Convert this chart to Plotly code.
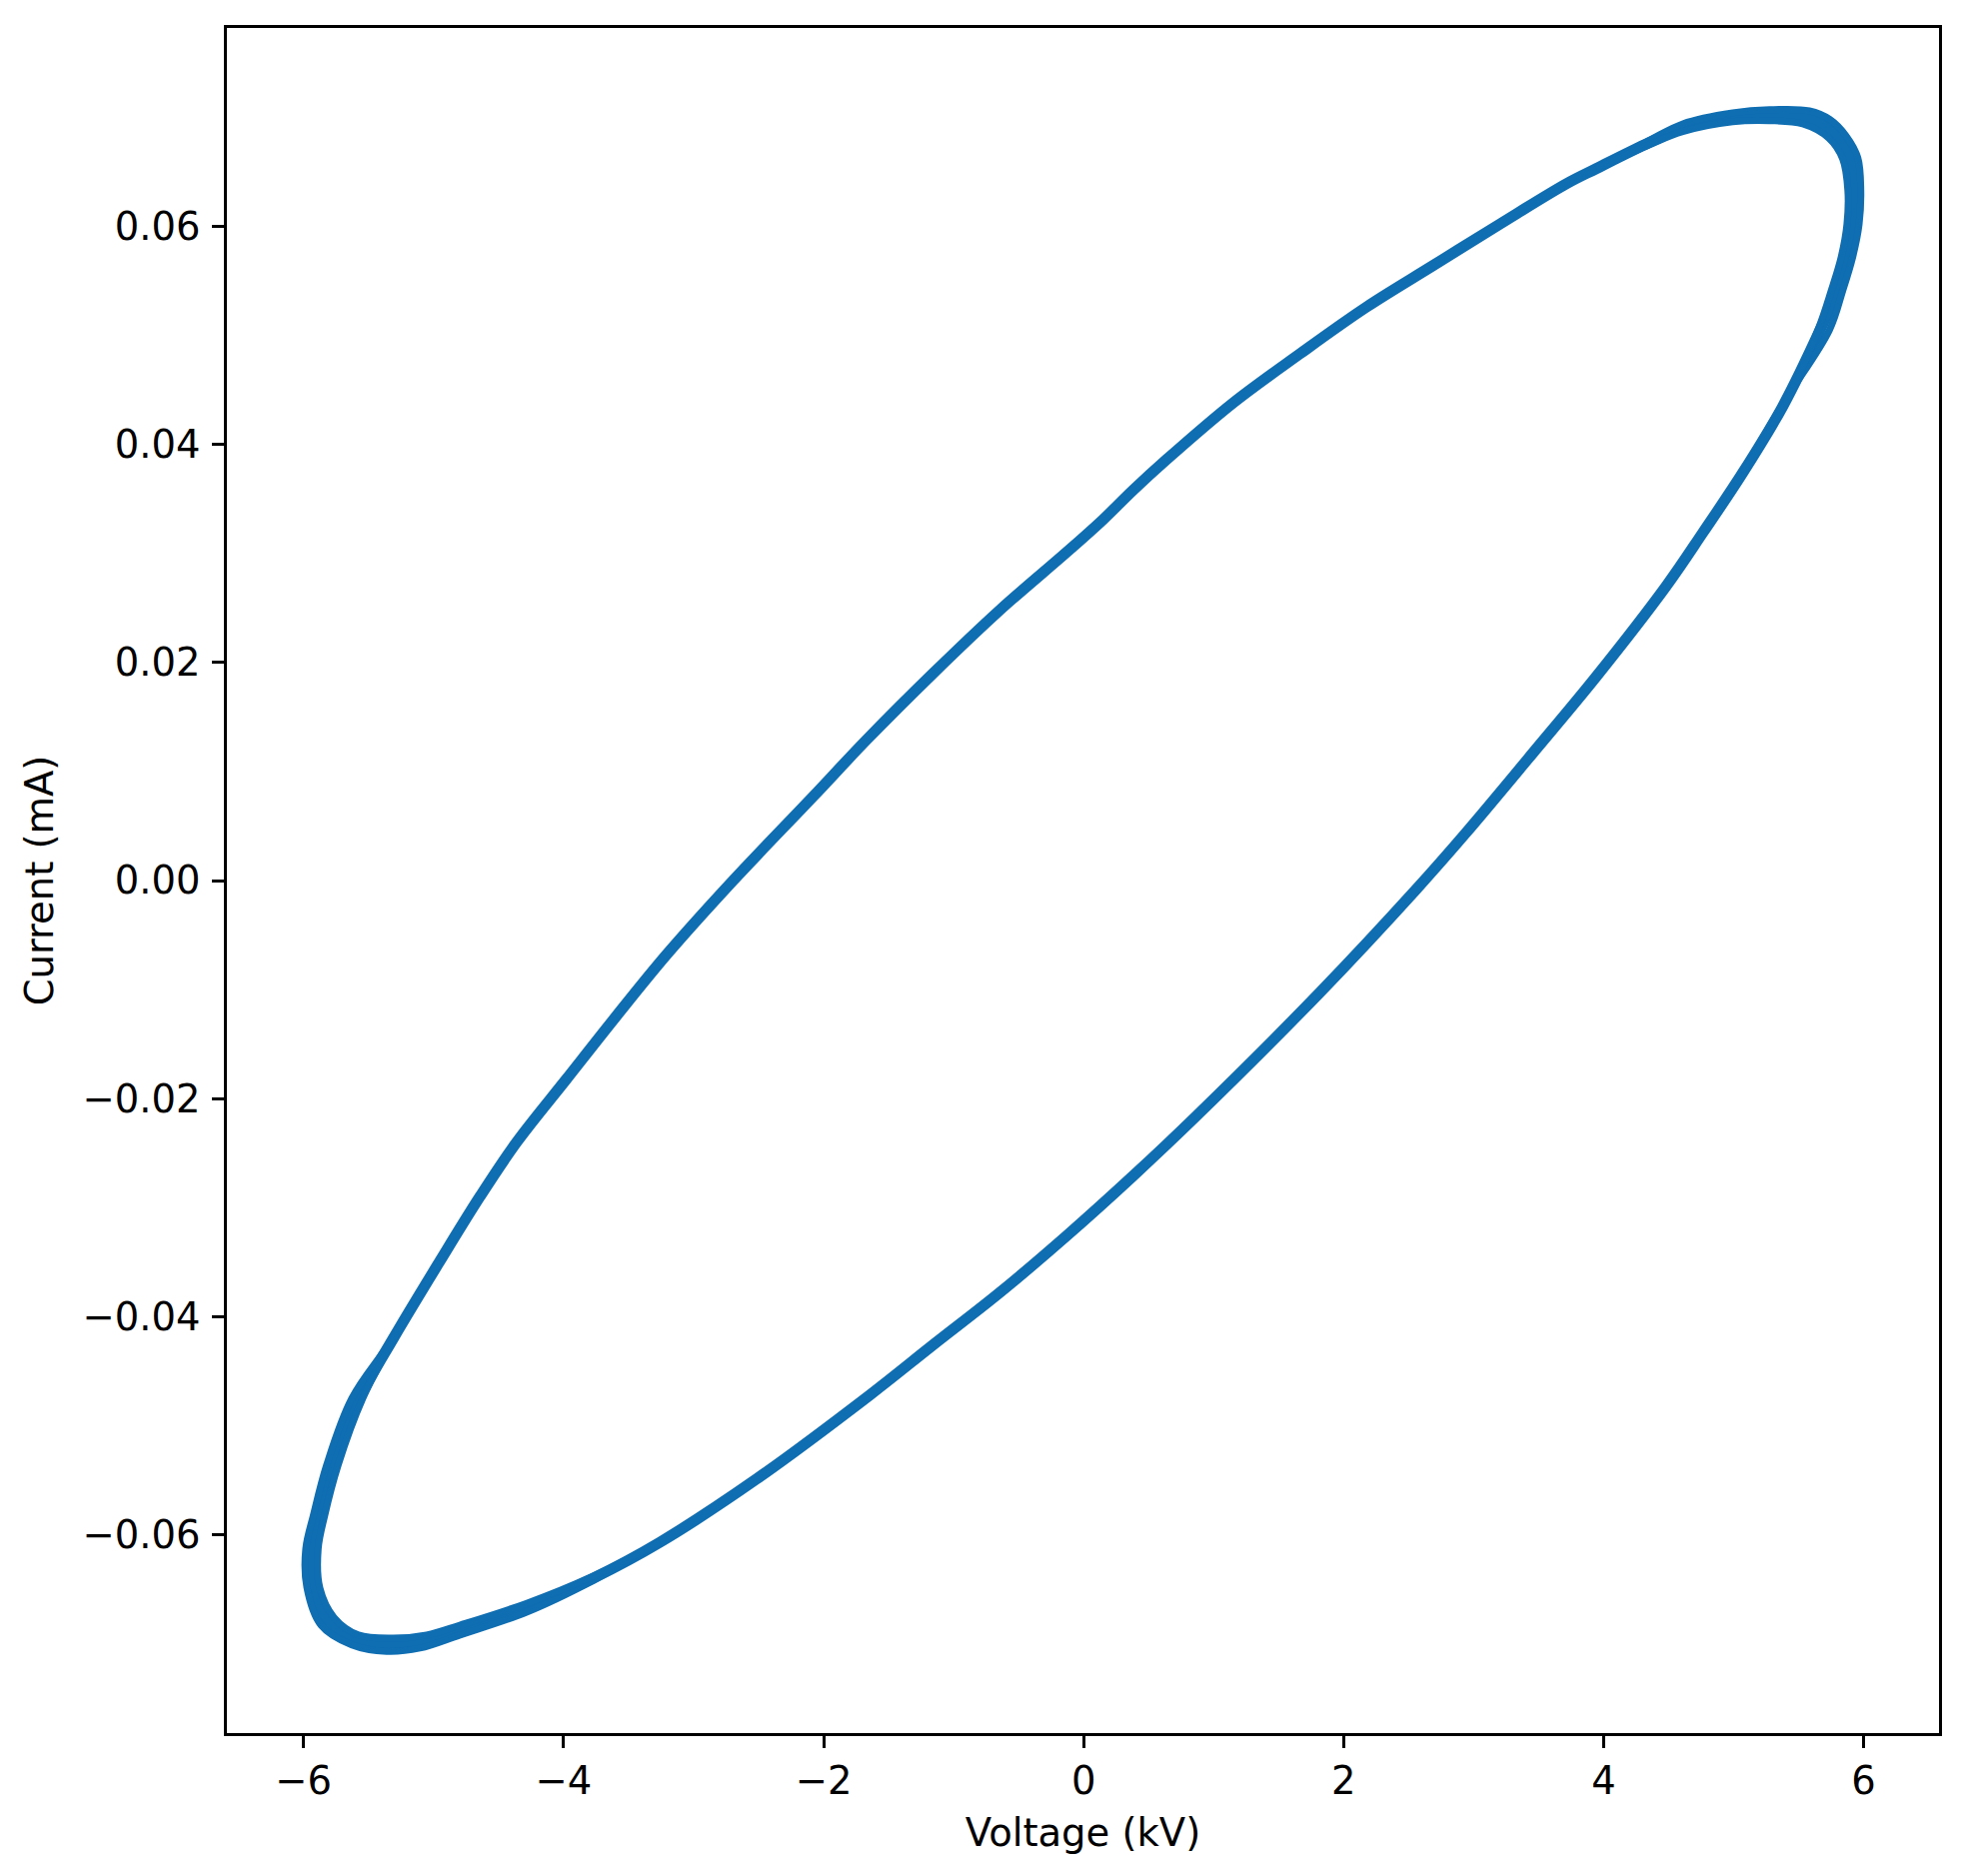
import plotly.graph_objects as go

# Main loop: Voltage (kV) vs Current (mA), read along the centre of the trace
voltage_kv = [-5.936, -5.925, -5.816, -5.605, -5.336, -5.079, -4.797, -4.284, -3.772, -3.259,
              -2.516, -1.645, -1.158, -0.645, -0.132, 0.380, 0.867, 1.815, 2.559, 2.943,
              3.456, 3.943, 4.481, 4.763, 5.070, 5.378, 5.665, 5.795, 5.872, 5.918,
              5.929, 5.897, 5.827, 5.737, 5.558, 5.276, 4.993, 4.609, 4.353, 3.943,
              3.712, 3.200, 2.687, 2.175, 1.662, 1.149, 0.637, 0.380, 0.149, -0.132,
              -0.645, -1.158, -1.670, -2.081, -2.696, -3.208, -3.592, -3.977, -4.361, -4.644,
              -4.951, -5.310, -5.570, -5.778, -5.881, -5.936]
current_ma = [-0.0613, -0.0648, -0.0680, -0.0697, -0.0701, -0.0698, -0.0688, -0.0667, -0.0640, -0.0607,
              -0.0549, -0.0472, -0.0426, -0.0378, -0.0326, -0.0271, -0.0216, -0.0103, -0.0008, 0.0044,
              0.0117, 0.0187, 0.0270, 0.0319, 0.0374, 0.0435, 0.0505, 0.0541, 0.0572, 0.0602,
              0.0633, 0.0662, 0.0677, 0.0690, 0.0700, 0.0702, 0.0700, 0.0690, 0.0677, 0.0653,
              0.0639, 0.0602, 0.0564, 0.0526, 0.0483, 0.0438, 0.0386, 0.0358, 0.0331, 0.0301,
              0.0248, 0.0190, 0.0129, 0.0077, 0.0000, -0.0068, -0.0124, -0.0182, -0.0240, -0.0290,
              -0.0349, -0.0420, -0.0475, -0.0536, -0.0582, -0.0613]

# Spread of the repeated cycles at the two turning points (outer / inner edges of the band)
right_outer_v = [3.943, 4.353, 4.609, 4.993, 5.276, 5.583, 5.742, 5.865, 5.955, 5.978, 5.965, 5.916, 5.839, 5.737, 5.378, 5.070]
right_outer_i = [0.0653, 0.0679, 0.0694, 0.0704, 0.0707, 0.0706, 0.0698, 0.0683, 0.0663, 0.0633, 0.0602, 0.0572, 0.0541, 0.0505, 0.0437, 0.0374]
right_inner_v = [3.943, 4.353, 4.609, 4.993, 5.276, 5.532, 5.732, 5.839, 5.879, 5.872, 5.828, 5.751, 5.649, 5.378, 5.070]
right_inner_i = [0.0653, 0.0675, 0.0687, 0.0696, 0.0697, 0.0694, 0.0681, 0.0662, 0.0633, 0.0602, 0.0572, 0.0541, 0.0505, 0.0433, 0.0374]
left_outer_v = [-4.951, -5.320, -5.629, -5.822, -5.924, -5.983, -5.975, -5.866, -5.630, -5.361, -5.105, -4.797, -4.284, -3.772, -3.259]
left_outer_i = [-0.0349, -0.0421, -0.0475, -0.0536, -0.0582, -0.0613, -0.0648, -0.0683, -0.0701, -0.0707, -0.0704, -0.0692, -0.0671, -0.0642, -0.0607]
left_inner_v = [-4.951, -5.300, -5.545, -5.734, -5.837, -5.888, -5.875, -5.766, -5.579, -5.310, -5.053, -4.797, -4.284, -3.772, -3.259]
left_inner_i = [-0.0349, -0.0419, -0.0475, -0.0536, -0.0582, -0.0613, -0.0649, -0.0676, -0.0692, -0.0695, -0.0692, -0.0683, -0.0663, -0.0638, -0.0607]

x_ticks = [-6, -4, -2, 0, 2, 4, 6]
x_ticktext = ["\u22126", "\u22124", "\u22122", "0", "2", "4", "6"]
y_ticks = [-0.06, -0.04, -0.02, 0.0, 0.02, 0.04, 0.06]
y_ticktext = ["\u22120.06", "\u22120.04", "\u22120.02", "0.00", "0.02", "0.04", "0.06"]

LINE_COLOR = "#0f6db2"

fig = go.Figure()
fig.add_trace(go.Scatter(
    x=voltage_kv, y=current_ma, mode="lines",
    line=dict(color=LINE_COLOR, width=11, shape="spline", smoothing=1.0),
    showlegend=False, hoverinfo="skip",
))
for vx, iy in [(right_outer_v, right_outer_i), (right_inner_v, right_inner_i),
               (left_outer_v, left_outer_i), (left_inner_v, left_inner_i)]:
    fig.add_trace(go.Scatter(
        x=vx, y=iy, mode="lines",
        line=dict(color=LINE_COLOR, width=7, shape="spline", smoothing=1.0),
        showlegend=False, hoverinfo="skip",
    ))

axis_common = dict(
    showline=True, linecolor="black", linewidth=2.8, mirror=True,
    ticks="outside", ticklen=12, tickwidth=2.8, tickcolor="black",
    showgrid=False, zeroline=False,
    tickfont=dict(family="DejaVu Sans", size=38.5, color="black"),
    title_font=dict(family="DejaVu Sans", size=38.5, color="black"),
)

fig.update_layout(
    width=1975, height=1877,
    margin=dict(l=219, r=43, t=20, b=151),
    paper_bgcolor="white", plot_bgcolor="white",
    xaxis=dict(range=[-6.59, 6.58], tickvals=x_ticks, ticktext=x_ticktext,
               title=dict(text="Voltage (kV)", standoff=17), **axis_common),
    yaxis=dict(range=[-0.0782, 0.0782], tickvals=y_ticks, ticktext=y_ticktext,
               ticklabelstandoff=4,
               title=dict(text="Current (mA)", standoff=17), **axis_common),
)

fig.write_html("out.html")
